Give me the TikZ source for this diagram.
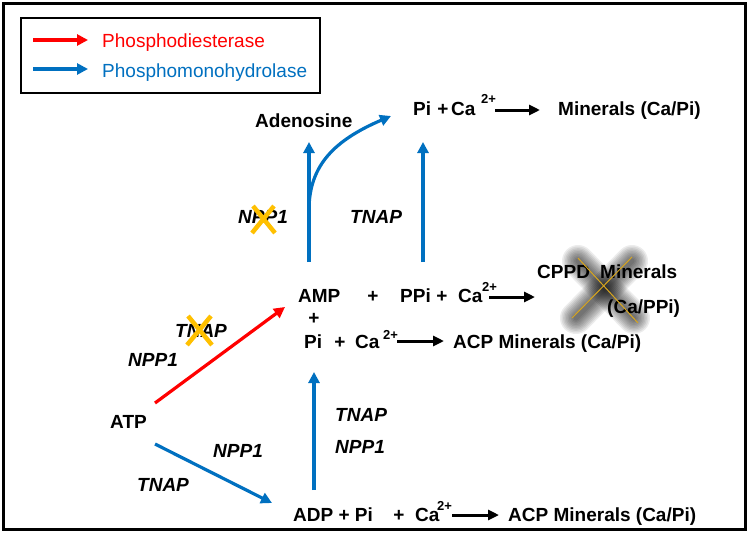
\documentclass[tikz,border=0pt]{standalone}
\usepackage{fontspec}
\setmainfont{Liberation Sans}
\usetikzlibrary{arrows.meta}
\definecolor{rred}{RGB}{255,0,0}
\definecolor{bblue}{RGB}{0,112,192}
\definecolor{xorange}{RGB}{255,192,0}
\definecolor{xgold}{RGB}{215,165,30}
\begin{document}
\begin{tikzpicture}[x=1pt,y=-1pt,
  lbl/.style={inner sep=0pt, anchor=base west, font=\fontsize{19}{21}\selectfont\bfseries},
  pls/.style={inner sep=0pt, anchor=base, font=\fontsize{19}{21}\selectfont\bfseries},
  enz/.style={inner sep=0pt, anchor=base west, font=\fontsize{19}{21}\selectfont\bfseries\itshape},
  supr/.style={inner sep=0pt, anchor=base west, font=\fontsize{13}{14}\selectfont\bfseries},
  leg/.style={inner sep=0pt, anchor=base west, font=\fontsize{19}{21}\selectfont},
  barrow/.style={draw=bblue, line width=3.2pt, -{Triangle[length=11pt,width=11pt]}},
  rarrow/.style={draw=rred, line width=3.2pt, -{Triangle[length=11pt,width=11pt]}},
  karrow/.style={draw=black, line width=3pt, -{Triangle[length=11pt,width=10pt]}},
  xmark/.style={draw=xorange, line width=4.5pt},
  frame/.style={draw=black, line width=3pt}
]
\useasboundingbox (0,0) rectangle (749,533);
\fill[white] (0,0) rectangle (749,533);
\draw[frame] (3,3) rectangle (745,529);

% legend
\draw[frame, line width=2.6pt] (21,18) rectangle (320,93);
\coordinate (lr1) at (33,40); \coordinate (lr2) at (88,40);
\coordinate (lb1) at (33,69); \coordinate (lb2) at (88,69);
\draw[rarrow] (lr1) -- (lr2);
\draw[barrow] (lb1) -- (lb2);
\node[leg, text=rred] (legpd) at (102,47) {Phosphodiesterase};
\node[leg, text=bblue] (legpm) at (102,77) {Phosphomonohydrolase};

% blurred cross behind CPPD
\foreach \w in {32,29,26,23,20,17,14,11,8,5}{
  \draw[black, line width=\w pt, line cap=round, opacity=0.075] (578,261) -- (634,318);
  \draw[black, line width=\w pt, line cap=round, opacity=0.075] (632,261) -- (576,318);
}

% top row
\node[lbl] (adeno) at (255,127) {Adenosine};
\node[lbl] (pitop) at (413,115) {Pi};
\node[pls] (plustop) at (443,115) {+};
\node[lbl] (catop) at (451,115) {Ca};
\node[supr] (suptop) at (481,103) {2+};
\node[lbl] (mintop) at (558,115) {Minerals (Ca/Pi)};

% middle row
\node[lbl] (amp) at (298,302) {AMP};
\node[pls] (plus1) at (373,302) {+};
\node[lbl] (ppi) at (400,302) {PPi};
\node[pls] (plus2) at (442,302) {+};
\node[lbl] (camid) at (458,302) {Ca};
\node[supr] (supmid) at (482,291) {2+};
\node[lbl] (cppd) at (537,278) {CPPD};
\node[lbl] (minmid) at (600,278) {Minerals};
\node[lbl] (cappi) at (607,313) {(Ca/PPi)};

\node[pls] (plusamp) at (314,324) {+};
\node[lbl] (pimid) at (304,348) {Pi};
\node[pls] (plusmid) at (340,348) {+};
\node[lbl] (camid2) at (355,348) {Ca};
\node[supr] (supmid2) at (383,339) {2+};
\node[lbl] (acpmid) at (453,348) {ACP Minerals (Ca/Pi)};

% ATP and bottom row
\node[lbl] (atp) at (110,428) {ATP};
\node[lbl] (adp) at (293,521) {ADP + Pi};
\node[pls] (plusbot) at (399,521) {+};
\node[lbl] (cabot) at (415,521) {Ca};
\node[supr] (supbot) at (437,510) {2+};
\node[lbl] (acpbot) at (508,521) {ACP Minerals (Ca/Pi)};

% enzyme labels
\node[enz] (npp1a) at (238,223) {NPP1};
\node[enz] (tnapa) at (350,223) {TNAP};
\node[enz] (tnapb) at (175,337) {TNAP};
\node[enz] (npp1b) at (128,366) {NPP1};
\node[enz] (npp1c) at (213,457) {NPP1};
\node[enz] (tnapc) at (137,491) {TNAP};
\node[enz] (tnapd) at (335,421) {TNAP};
\node[enz] (npp1d) at (335,453) {NPP1};

% connector end points
\coordinate (atpR) at (155,403);
\coordinate (ampIn) at (285,307);
\coordinate (atpB) at (155,444);
\coordinate (adpIn) at (272,503);
\coordinate (adpUp) at (314,490);
\coordinate (piIn) at (314,372);
\coordinate (ampUp) at (309,262);
\coordinate (adenoIn) at (309,142);
\coordinate (branch) at (309,210);
\coordinate (piTopIn) at (391,116);
\coordinate (ppiUp) at (423,262);
\coordinate (piTopIn2) at (423,142);
\coordinate (k1a) at (495,110); \coordinate (k1b) at (540,110);
\coordinate (k2a) at (489,297); \coordinate (k2b) at (535,297);
\coordinate (k3a) at (397,341); \coordinate (k3b) at (444,341);
\coordinate (k4a) at (452,515); \coordinate (k4b) at (499,515);

\draw[rarrow] (atpR) -- (ampIn);
\draw[barrow] (atpB) -- (adpIn);
\draw[barrow] (adpUp) -- (piIn);
\draw[barrow] (ampUp) -- (adenoIn);
\draw[barrow] (branch) .. controls (309,165) and (335,140) .. (piTopIn);
\draw[barrow] (ppiUp) -- (piTopIn2);
\draw[karrow] (k1a) -- (k1b);
\draw[karrow] (k2a) -- (k2b);
\draw[karrow] (k3a) -- (k3b);
\draw[karrow] (k4a) -- (k4b);

% crosses
\draw[xmark] (253,206) -- (275,233) (274,206) -- (252,233);
\draw[xmark] (188,316) -- (212,345) (211,316) -- (187,345);
\draw[xgold, line width=1pt] (578,258) -- (638,323) (632,257) -- (572,318);
\end{tikzpicture}
\end{document}
